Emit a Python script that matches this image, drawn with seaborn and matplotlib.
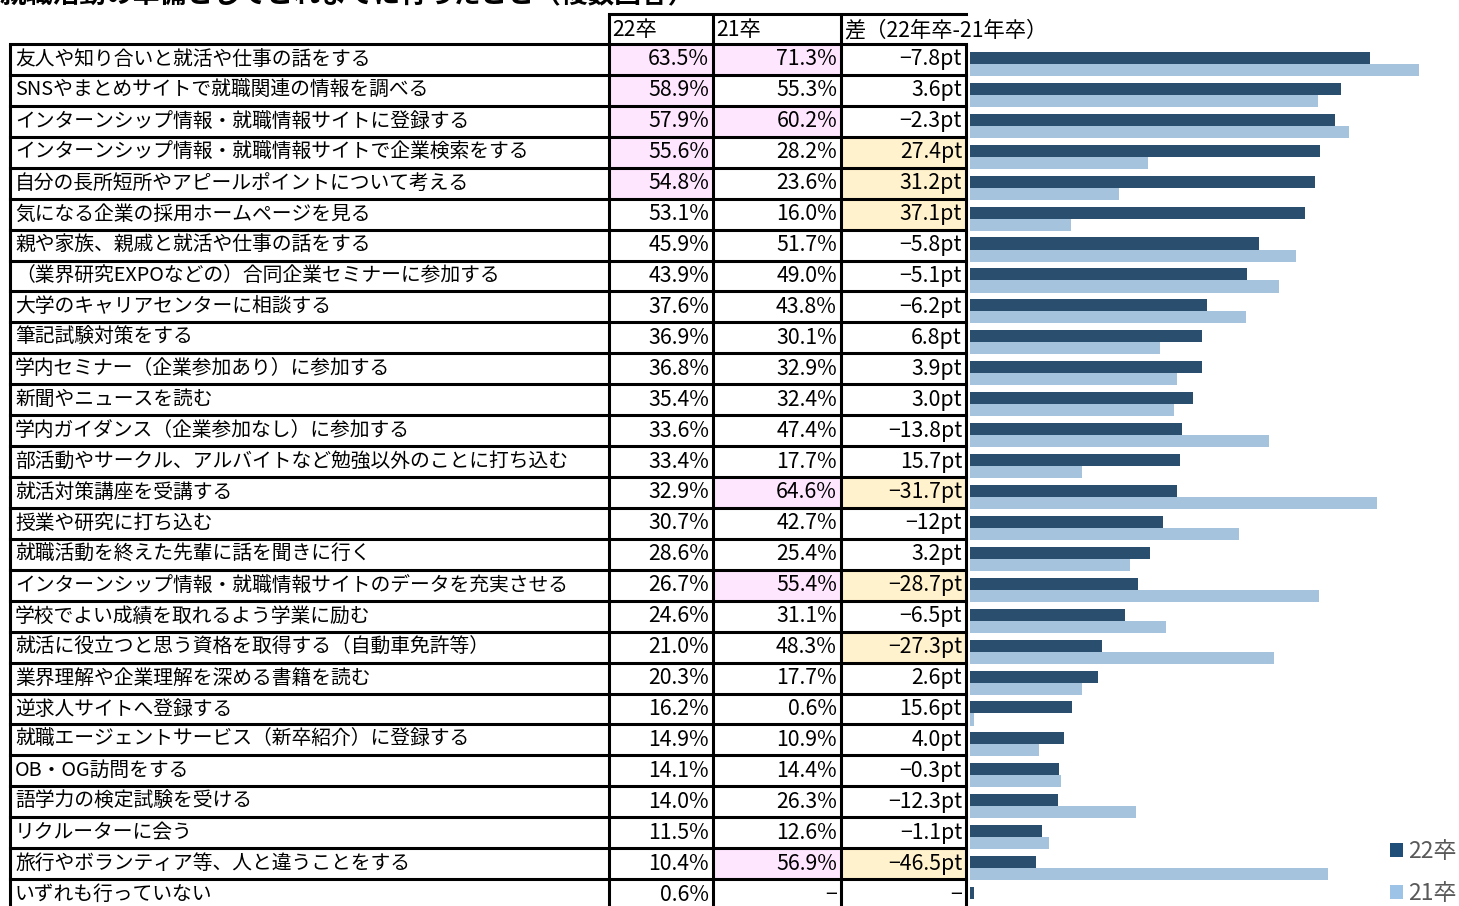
import numpy as np
import pandas as pd
import matplotlib
matplotlib.use("Agg")
import matplotlib.pyplot as plt
from matplotlib.patches import Rectangle, Patch
import seaborn as sns

# ---------------- data ----------------
labels = [
    "友人や知り合いと就活や仕事の話をする",
    "SNSやまとめサイトで就職関連の情報を調べる",
    "インターンシップ情報・就職情報サイトに登録する",
    "インターンシップ情報・就職情報サイトで企業検索をする",
    "自分の長所短所やアピールポイントについて考える",
    "気になる企業の採用ホームページを見る",
    "親や家族、親戚と就活や仕事の話をする",
    "（業界研究EXPOなどの）合同企業セミナーに参加する",
    "大学のキャリアセンターに相談する",
    "筆記試験対策をする",
    "学内セミナー（企業参加あり）に参加する",
    "新聞やニュースを読む",
    "学内ガイダンス（企業参加なし）に参加する",
    "部活動やサークル、アルバイトなど勉強以外のことに打ち込む",
    "就活対策講座を受講する",
    "授業や研究に打ち込む",
    "就職活動を終えた先輩に話を聞きに行く",
    "インターンシップ情報・就職情報サイトのデータを充実させる",
    "学校でよい成績を取れるよう学業に励む",
    "就活に役立つと思う資格を取得する（自動車免許等）",
    "業界理解や企業理解を深める書籍を読む",
    "逆求人サイトへ登録する",
    "就職エージェントサービス（新卒紹介）に登録する",
    "OB・OG訪問をする",
    "語学力の検定試験を受ける",
    "リクルーターに会う",
    "旅行やボランティア等、人と違うことをする",
    "いずれも行っていない",
]
v22 = [63.5, 58.9, 57.9, 55.6, 54.8, 53.1, 45.9, 43.9, 37.6, 36.9, 36.8, 35.4, 33.6, 33.4,
       32.9, 30.7, 28.6, 26.7, 24.6, 21.0, 20.3, 16.2, 14.9, 14.1, 14.0, 11.5, 10.4, 0.6]
v21 = [71.3, 55.3, 60.2, 28.2, 23.6, 16.0, 51.7, 49.0, 43.8, 30.1, 32.9, 32.4, 47.4, 17.7,
       64.6, 42.7, 25.4, 55.4, 31.1, 48.3, 17.7, 0.6, 10.9, 14.4, 26.3, 12.6, 56.9, np.nan]
diff_labels = ["−7.8pt", "3.6pt", "−2.3pt", "27.4pt", "31.2pt", "37.1pt", "−5.8pt", "−5.1pt",
               "−6.2pt", "6.8pt", "3.9pt", "3.0pt", "−13.8pt", "15.7pt", "−31.7pt", "−12pt",
               "3.2pt", "−28.7pt", "−6.5pt", "−27.3pt", "2.6pt", "15.6pt", "4.0pt", "−0.3pt",
               "−12.3pt", "−1.1pt", "−46.5pt", "−"]
v21_labels = [("−" if np.isnan(v) else f"{v:.1f}%") for v in v21]
v22_labels = [f"{v:.1f}%" for v in v22]
pink22 = [0, 1, 2, 3, 4]
pink21 = [0, 2, 14, 17, 26]
yellow_diff = [3, 4, 5, 14, 17, 19, 26]
series_names = ["22卒", "21卒"]
headers = ["22卒", "21卒", "差（22年卒-21年卒）"]
title = "就職活動の準備としてこれまでに行ったこと（複数回答）"

# ---------------- style ----------------
sns.set_theme(style="white")
plt.rcParams["font.family"] = ["Noto Sans CJK JP", "DejaVu Sans"]

W, H = 1459, 906
fig = plt.figure(figsize=(W / 100, H / 100), dpi=100)

DARK = "#1F4E79"
LIGHT = "#9DC3E6"
PINK = "#FFE6FF"
YELLOW = "#FFF2CC"

# table axes in pixel coordinates
tab = fig.add_axes([0, 0, 1, 1])
tab.set_xlim(0, W)
tab.set_ylim(H, 0)
tab.axis("off")

n = len(labels)
row_top = 44.0
rh = 30.93
xL, x1, x2, x3, x4 = 10, 609, 713, 841, 966
lw = 2.2
fs = 14.25
fsn = 15.3

def ry(i):
    return row_top + i * rh

# fills
for i in pink22:
    tab.add_patch(Rectangle((x1, ry(i)), x2 - x1, rh, facecolor=PINK, edgecolor="none", zorder=1))
for i in pink21:
    tab.add_patch(Rectangle((x2, ry(i)), x3 - x2, rh, facecolor=PINK, edgecolor="none", zorder=1))
for i in yellow_diff:
    tab.add_patch(Rectangle((x3, ry(i)), x4 - x3, rh, facecolor=YELLOW, edgecolor="none", zorder=1))

# grid lines
bottom = ry(n)
tab.plot([x1, x4], [14, 14], color="black", lw=lw, zorder=3, solid_capstyle="projecting")
for i in range(n + 1):
    tab.plot([xL, x4], [ry(i), ry(i)], color="black", lw=lw, zorder=3, solid_capstyle="projecting")
tab.plot([xL, xL], [row_top, bottom], color="black", lw=lw, zorder=3)
for x in (x1, x2, x3):
    tab.plot([x, x], [14, bottom], color="black", lw=lw, zorder=3)
tab.plot([x4, x4], [row_top, bottom], color="black", lw=lw, zorder=3)

# headers
for x, h in zip((x1 + 3, x2 + 3, x3 + 3), headers):
    tab.text(x, 30, h, ha="left", va="center", fontsize=fsn, color="black", zorder=4)

# title (top clipped by the figure edge, as in the reference)
tab.text(0, 8, title, ha="left", va="bottom", fontsize=fs * 1.35, color="black",
         fontweight="bold", zorder=4)

# cell text
for i in range(n):
    yc = ry(i) + rh / 2
    tab.text(15, yc, labels[i], ha="left", va="center", fontsize=fs, color="black", zorder=4)
    tab.text(x2 - 4, yc, v22_labels[i], ha="right", va="center", fontsize=fsn, color="black", zorder=4)
    tab.text(x3 - 4, yc, v21_labels[i], ha="right", va="center", fontsize=fsn, color="black", zorder=4)
    tab.text(x4 - 4, yc, diff_labels[i], ha="right", va="center", fontsize=fsn, color="black", zorder=4)

# ---------------- bars ----------------
bx0 = 970
px_per_pct = 6.3
btop = row_top + 4.5
bbot = btop + n * rh
axb = fig.add_axes([bx0 / W, 1 - bbot / H, (W - bx0) / W, (bbot - btop) / H])
axb.patch.set_alpha(0)

df = pd.DataFrame({
    "label": labels * 2,
    "series": [series_names[0]] * n + [series_names[1]] * n,
    "value": v22 + v21,
})
sns.barplot(data=df, y="label", x="value", hue="series", hue_order=series_names,
            palette=[DARK, LIGHT], orient="h", width=0.78, ax=axb, linewidth=0,
            legend=False, errorbar=None)
axb.set_xlim(0, (W - bx0) / px_per_pct)
axb.set_ylim(n - 0.5, -0.5)
axb.set_xlabel("")
axb.set_ylabel("")
axb.set_xticks([])
axb.set_yticks([])
for s in axb.spines.values():
    s.set_visible(False)

handles = [Patch(facecolor=DARK, edgecolor="none"), Patch(facecolor=LIGHT, edgecolor="none")]
fig.legend(handles, series_names, loc="upper left",
           bbox_to_anchor=(1390 / W, 1 - 840 / H), bbox_transform=fig.transFigure,
           frameon=False, fontsize=16.5, labelcolor="#595959",
           handlelength=0.55, handleheight=0.55, handletextpad=0.25,
           labelspacing=0.85, borderpad=0, borderaxespad=0)

fig.savefig("out.png", dpi=100)
